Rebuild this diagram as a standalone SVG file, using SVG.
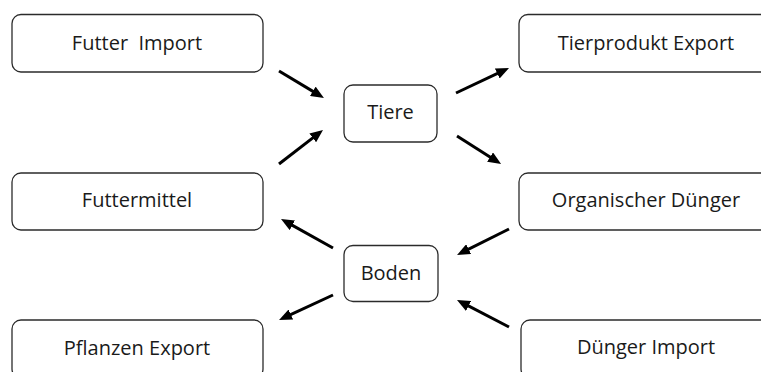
<svg xmlns="http://www.w3.org/2000/svg" width="761" height="372" viewBox="0 0 761 372">
  <style>
    .box { fill: #ffffff; stroke: #2b2b2b; stroke-width: 1.3; }
    .lbl { font-family: "Open Sans", "Liberation Sans", sans-serif; font-size: 20px; fill: #1a1a1a; text-anchor: middle; white-space: pre; }
    .arr { stroke: #000000; stroke-width: 3; fill: none; marker-end: url(#head); }
  </style>
  <defs>
    <marker id="head" markerUnits="userSpaceOnUse" viewBox="0 0 13 11" markerWidth="13" markerHeight="11" refX="5" refY="5.5" orient="auto">
      <path d="M0,0 L13,5.5 L0,11 z" fill="#000000"/>
    </marker>
  </defs>
  <rect width="761" height="372" fill="#ffffff"/>

  <g id="futter-import">
    <rect class="box" x="12" y="14.5" width="251" height="57.5" rx="9"/>
    <text class="lbl" x="137" y="50">Futter  Import</text>
  </g>
  <g id="futtermittel">
    <rect class="box" x="12" y="173" width="251" height="57" rx="9"/>
    <text class="lbl" x="137" y="207">Futtermittel</text>
  </g>
  <g id="pflanzen-export">
    <rect class="box" x="12" y="320" width="251" height="58" rx="9"/>
    <text class="lbl" x="137" y="355">Pflanzen Export</text>
  </g>
  <g id="tiere">
    <rect class="box" x="344" y="85" width="93" height="57" rx="9"/>
    <text class="lbl" x="390.5" y="119">Tiere</text>
  </g>
  <g id="boden">
    <rect class="box" x="344" y="245.5" width="94" height="56" rx="9"/>
    <text class="lbl" x="391" y="280">Boden</text>
  </g>
  <g id="tierprodukt-export">
    <rect class="box" x="519" y="14.5" width="254" height="57.5" rx="9"/>
    <text class="lbl" x="646" y="50">Tierprodukt Export</text>
  </g>
  <g id="organischer-duenger">
    <rect class="box" x="519" y="173" width="254" height="57" rx="9"/>
    <text class="lbl" x="646" y="207">Organischer Dünger</text>
  </g>
  <g id="duenger-import">
    <rect class="box" x="521" y="320" width="254" height="58" rx="9"/>
    <text class="lbl" x="646" y="354">Dünger Import</text>
  </g>

  <g id="connectors">
    <line class="arr" x1="279" y1="71" x2="317.1" y2="93.9"/>
    <line class="arr" x1="279" y1="164" x2="316.7" y2="134.9"/>
    <line class="arr" x1="456" y1="93" x2="501.8" y2="71.4"/>
    <line class="arr" x1="457" y1="136" x2="494.3" y2="159.7"/>
    <line class="arr" x1="509" y1="229" x2="464.2" y2="251.4"/>
    <line class="arr" x1="509" y1="327" x2="464.1" y2="303.7"/>
    <line class="arr" x1="333" y1="248" x2="288" y2="222.9"/>
    <line class="arr" x1="333" y1="295" x2="286.3" y2="316.6"/>
  </g>
</svg>
